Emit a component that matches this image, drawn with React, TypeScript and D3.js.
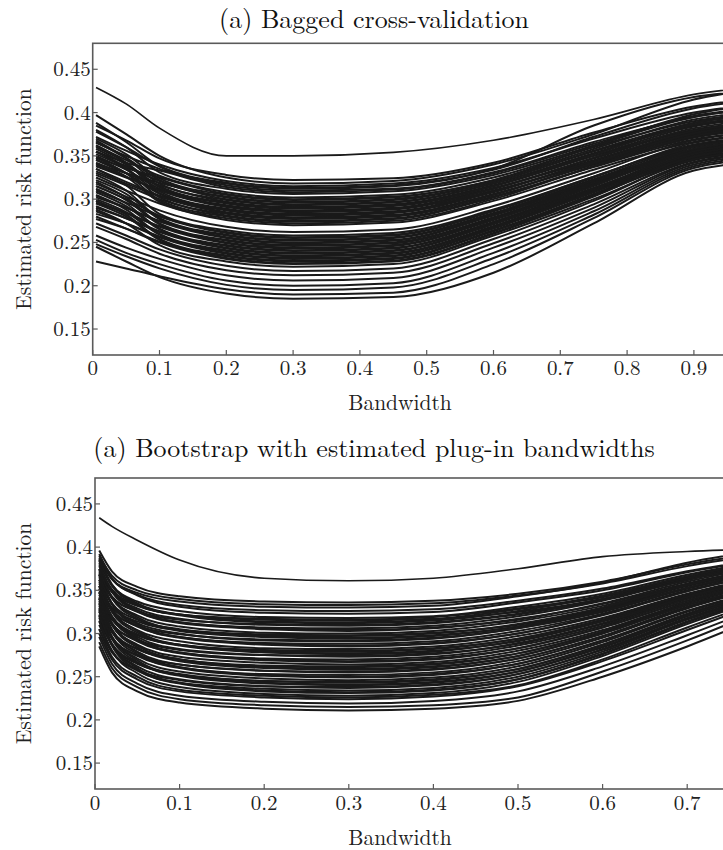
import React from 'react';
import * as d3 from 'd3';

const W = 723;
const H = 850;

// ---------- shared axis data ----------
const Y_TICKS = [0.15, 0.2, 0.25, 0.3, 0.35, 0.4, 0.45];
const Y_TICK_LABELS = ['0.15', '0.2', '0.25', '0.3', '0.35', '0.4', '0.45'];
const Y_DOMAIN = [0.12, 0.48];

// ---------- panel 1: bagged cross-validation ----------
const TITLE_CV = '(a) Bagged cross-validation';
const X_TICKS_CV = [0, 0.1, 0.2, 0.3, 0.4, 0.5, 0.6, 0.7, 0.8, 0.9];
const X_TICK_LABELS_CV = ['0', '0.1', '0.2', '0.3', '0.4', '0.5', '0.6', '0.7', '0.8', '0.9'];
const KNOTS_CV = [0.005, 0.05, 0.1, 0.2, 0.3, 0.45, 0.6, 0.75, 0.9, 1.0];
const CURVES_CV: number[][] = [
  [0.429, 0.410, 0.382, 0.350, 0.350, 0.354, 0.368, 0.392, 0.421, 0.430],
  [0.385, 0.368, 0.347, 0.328, 0.322, 0.324, 0.342, 0.377, 0.407, 0.417],
  [0.397, 0.375, 0.350, 0.325, 0.318, 0.321, 0.340, 0.375, 0.415, 0.428],
  [0.372, 0.356, 0.340, 0.321, 0.315, 0.318, 0.336, 0.370, 0.400, 0.410],
  [0.378, 0.360, 0.338, 0.319, 0.313, 0.316, 0.334, 0.372, 0.405, 0.415],
  [0.388, 0.366, 0.338, 0.318, 0.312, 0.315, 0.335, 0.385, 0.418, 0.425],
  [0.365, 0.350, 0.335, 0.316, 0.310, 0.312, 0.331, 0.366, 0.395, 0.405],
  [0.355, 0.342, 0.333, 0.314, 0.308, 0.311, 0.330, 0.364, 0.396, 0.406],
  [0.380, 0.360, 0.331, 0.312, 0.306, 0.309, 0.328, 0.362, 0.398, 0.410],
  [0.362, 0.345, 0.327, 0.308, 0.302, 0.305, 0.325, 0.360, 0.390, 0.400],
  [0.348, 0.336, 0.325, 0.306, 0.300, 0.303, 0.322, 0.361, 0.395, 0.405],
  [0.370, 0.352, 0.324, 0.305, 0.299, 0.302, 0.322, 0.358, 0.392, 0.402],
  [0.368, 0.348, 0.322, 0.303, 0.297, 0.300, 0.320, 0.356, 0.388, 0.398],
  [0.355, 0.338, 0.321, 0.302, 0.296, 0.299, 0.320, 0.355, 0.385, 0.395],
  [0.341, 0.330, 0.319, 0.300, 0.294, 0.297, 0.318, 0.353, 0.386, 0.396],
  [0.366, 0.347, 0.318, 0.299, 0.293, 0.296, 0.318, 0.352, 0.388, 0.398],
  [0.345, 0.330, 0.316, 0.297, 0.291, 0.294, 0.316, 0.350, 0.380, 0.390],
  [0.360, 0.342, 0.315, 0.296, 0.290, 0.293, 0.315, 0.350, 0.384, 0.394],
  [0.358, 0.340, 0.314, 0.295, 0.289, 0.292, 0.315, 0.352, 0.386, 0.396],
  [0.350, 0.334, 0.312, 0.293, 0.287, 0.290, 0.313, 0.345, 0.378, 0.388],
  [0.338, 0.325, 0.311, 0.292, 0.286, 0.289, 0.312, 0.347, 0.380, 0.390],
  [0.340, 0.326, 0.310, 0.291, 0.285, 0.288, 0.312, 0.348, 0.382, 0.392],
  [0.362, 0.342, 0.309, 0.289, 0.283, 0.286, 0.310, 0.342, 0.374, 0.384],
  [0.355, 0.336, 0.307, 0.288, 0.282, 0.285, 0.309, 0.344, 0.377, 0.387],
  [0.346, 0.330, 0.306, 0.287, 0.281, 0.284, 0.308, 0.344, 0.379, 0.389],
  [0.335, 0.320, 0.304, 0.285, 0.279, 0.282, 0.306, 0.340, 0.372, 0.382],
  [0.332, 0.318, 0.303, 0.284, 0.278, 0.281, 0.305, 0.341, 0.375, 0.385],
  [0.352, 0.335, 0.302, 0.283, 0.277, 0.280, 0.305, 0.342, 0.376, 0.386],
  [0.330, 0.316, 0.300, 0.281, 0.275, 0.278, 0.303, 0.337, 0.369, 0.379],
  [0.348, 0.330, 0.299, 0.280, 0.274, 0.277, 0.302, 0.338, 0.371, 0.381],
  [0.342, 0.326, 0.297, 0.278, 0.272, 0.275, 0.300, 0.338, 0.373, 0.383],
  [0.325, 0.310, 0.295, 0.276, 0.270, 0.273, 0.298, 0.334, 0.366, 0.376],
  [0.318, 0.303, 0.287, 0.268, 0.262, 0.265, 0.292, 0.330, 0.368, 0.378],
  [0.335, 0.316, 0.283, 0.264, 0.258, 0.261, 0.288, 0.326, 0.362, 0.372],
  [0.315, 0.300, 0.281, 0.262, 0.256, 0.259, 0.287, 0.326, 0.363, 0.373],
  [0.310, 0.296, 0.280, 0.261, 0.255, 0.258, 0.286, 0.325, 0.365, 0.375],
  [0.328, 0.310, 0.278, 0.259, 0.253, 0.256, 0.284, 0.323, 0.361, 0.371],
  [0.322, 0.306, 0.277, 0.258, 0.252, 0.255, 0.283, 0.322, 0.358, 0.368],
  [0.302, 0.290, 0.275, 0.256, 0.250, 0.253, 0.282, 0.321, 0.357, 0.367],
  [0.305, 0.290, 0.274, 0.255, 0.249, 0.252, 0.281, 0.320, 0.360, 0.370],
  [0.320, 0.302, 0.272, 0.253, 0.247, 0.250, 0.279, 0.319, 0.358, 0.368],
  [0.315, 0.299, 0.271, 0.252, 0.246, 0.249, 0.278, 0.318, 0.355, 0.365],
  [0.296, 0.284, 0.269, 0.250, 0.244, 0.247, 0.277, 0.317, 0.354, 0.364],
  [0.298, 0.284, 0.268, 0.249, 0.243, 0.246, 0.276, 0.316, 0.358, 0.368],
  [0.312, 0.295, 0.266, 0.247, 0.241, 0.244, 0.274, 0.315, 0.356, 0.366],
  [0.308, 0.292, 0.265, 0.246, 0.240, 0.243, 0.273, 0.313, 0.352, 0.362],
  [0.290, 0.278, 0.263, 0.244, 0.238, 0.241, 0.272, 0.313, 0.351, 0.361],
  [0.292, 0.278, 0.262, 0.243, 0.237, 0.240, 0.271, 0.312, 0.355, 0.365],
  [0.304, 0.288, 0.260, 0.241, 0.235, 0.238, 0.269, 0.311, 0.353, 0.363],
  [0.300, 0.285, 0.259, 0.240, 0.234, 0.237, 0.268, 0.310, 0.350, 0.360],
  [0.283, 0.272, 0.257, 0.238, 0.232, 0.235, 0.267, 0.309, 0.348, 0.358],
  [0.286, 0.272, 0.256, 0.237, 0.231, 0.234, 0.266, 0.308, 0.352, 0.362],
  [0.298, 0.282, 0.254, 0.235, 0.229, 0.232, 0.264, 0.306, 0.350, 0.360],
  [0.295, 0.280, 0.253, 0.234, 0.228, 0.231, 0.263, 0.305, 0.347, 0.357],
  [0.277, 0.266, 0.251, 0.232, 0.226, 0.229, 0.261, 0.304, 0.346, 0.356],
  [0.280, 0.266, 0.250, 0.231, 0.225, 0.228, 0.260, 0.303, 0.349, 0.359],
  [0.288, 0.272, 0.247, 0.228, 0.222, 0.225, 0.258, 0.300, 0.345, 0.355],
  [0.272, 0.258, 0.242, 0.223, 0.217, 0.220, 0.254, 0.298, 0.346, 0.356],
  [0.268, 0.254, 0.237, 0.218, 0.212, 0.215, 0.249, 0.294, 0.343, 0.353],
  [0.258, 0.244, 0.231, 0.212, 0.206, 0.209, 0.244, 0.290, 0.342, 0.352],
  [0.253, 0.238, 0.225, 0.206, 0.200, 0.203, 0.238, 0.286, 0.340, 0.350],
  [0.248, 0.234, 0.220, 0.201, 0.195, 0.198, 0.232, 0.282, 0.338, 0.348],
  [0.228, 0.220, 0.211, 0.196, 0.190, 0.192, 0.225, 0.278, 0.336, 0.346],
  [0.245, 0.228, 0.210, 0.191, 0.185, 0.187, 0.215, 0.272, 0.333, 0.343],
];

// ---------- panel 2: bootstrap with plug-in bandwidths ----------
const TITLE_BOOT = '(a) Bootstrap with estimated plug-in bandwidths';
const X_TICKS_BOOT = [0, 0.1, 0.2, 0.3, 0.4, 0.5, 0.6, 0.7];
const X_TICK_LABELS_BOOT = ['0', '0.1', '0.2', '0.3', '0.4', '0.5', '0.6', '0.7'];
const KNOTS_BOOT = [0.005, 0.02, 0.05, 0.1, 0.2, 0.3, 0.4, 0.5, 0.6, 0.7, 0.8];
const CURVES_BOOT: number[][] = [
  [0.434, 0.424, 0.408, 0.385, 0.364, 0.361, 0.364, 0.375, 0.389, 0.395, 0.398],
  [0.396, 0.372, 0.354, 0.343, 0.337, 0.336, 0.338, 0.346, 0.360, 0.380, 0.395],
  [0.390, 0.367, 0.350, 0.340, 0.334, 0.333, 0.335, 0.344, 0.358, 0.378, 0.393],
  [0.385, 0.363, 0.347, 0.337, 0.331, 0.330, 0.332, 0.343, 0.359, 0.382, 0.398],
  [0.388, 0.363, 0.345, 0.333, 0.327, 0.326, 0.328, 0.338, 0.352, 0.372, 0.388],
  [0.392, 0.364, 0.344, 0.331, 0.324, 0.323, 0.325, 0.336, 0.350, 0.371, 0.387],
  [0.382, 0.356, 0.337, 0.326, 0.319, 0.318, 0.320, 0.331, 0.346, 0.368, 0.386],
  [0.370, 0.348, 0.332, 0.322, 0.317, 0.316, 0.319, 0.329, 0.342, 0.365, 0.383],
  [0.375, 0.351, 0.333, 0.322, 0.316, 0.315, 0.317, 0.328, 0.344, 0.366, 0.384],
  [0.386, 0.357, 0.335, 0.322, 0.314, 0.313, 0.316, 0.325, 0.340, 0.363, 0.381],
  [0.384, 0.355, 0.334, 0.321, 0.313, 0.312, 0.315, 0.326, 0.343, 0.366, 0.385],
  [0.364, 0.342, 0.326, 0.316, 0.311, 0.310, 0.313, 0.323, 0.340, 0.364, 0.383],
  [0.375, 0.349, 0.329, 0.317, 0.310, 0.309, 0.312, 0.322, 0.339, 0.362, 0.381],
  [0.368, 0.343, 0.325, 0.313, 0.307, 0.306, 0.309, 0.320, 0.338, 0.362, 0.382],
  [0.380, 0.350, 0.327, 0.313, 0.306, 0.304, 0.307, 0.316, 0.335, 0.360, 0.380],
  [0.378, 0.348, 0.326, 0.312, 0.305, 0.303, 0.306, 0.317, 0.334, 0.358, 0.378],
  [0.369, 0.341, 0.321, 0.308, 0.301, 0.300, 0.303, 0.314, 0.332, 0.357, 0.378],
  [0.352, 0.330, 0.314, 0.304, 0.299, 0.298, 0.301, 0.310, 0.329, 0.355, 0.376],
  [0.360, 0.335, 0.316, 0.305, 0.298, 0.297, 0.300, 0.311, 0.330, 0.356, 0.377],
  [0.374, 0.342, 0.319, 0.304, 0.297, 0.295, 0.298, 0.308, 0.328, 0.353, 0.375],
  [0.372, 0.341, 0.317, 0.303, 0.296, 0.294, 0.297, 0.308, 0.327, 0.352, 0.374],
  [0.350, 0.327, 0.309, 0.299, 0.293, 0.292, 0.295, 0.306, 0.325, 0.352, 0.373],
  [0.362, 0.334, 0.312, 0.300, 0.292, 0.291, 0.294, 0.306, 0.326, 0.353, 0.375],
  [0.355, 0.328, 0.308, 0.296, 0.289, 0.288, 0.291, 0.303, 0.323, 0.350, 0.372],
  [0.368, 0.335, 0.311, 0.296, 0.288, 0.286, 0.289, 0.300, 0.322, 0.349, 0.371],
  [0.366, 0.334, 0.309, 0.295, 0.287, 0.285, 0.288, 0.300, 0.321, 0.349, 0.372],
  [0.355, 0.326, 0.304, 0.291, 0.283, 0.282, 0.285, 0.297, 0.318, 0.346, 0.369],
  [0.340, 0.316, 0.298, 0.287, 0.281, 0.280, 0.283, 0.294, 0.316, 0.344, 0.367],
  [0.347, 0.320, 0.299, 0.287, 0.280, 0.279, 0.282, 0.294, 0.316, 0.345, 0.368],
  [0.362, 0.328, 0.303, 0.287, 0.279, 0.277, 0.280, 0.291, 0.314, 0.343, 0.366],
  [0.358, 0.325, 0.301, 0.286, 0.278, 0.276, 0.279, 0.292, 0.314, 0.343, 0.367],
  [0.336, 0.311, 0.293, 0.281, 0.275, 0.274, 0.277, 0.288, 0.311, 0.341, 0.365],
  [0.348, 0.318, 0.296, 0.282, 0.275, 0.273, 0.276, 0.289, 0.312, 0.342, 0.366],
  [0.340, 0.312, 0.291, 0.278, 0.271, 0.270, 0.273, 0.286, 0.309, 0.340, 0.364],
  [0.355, 0.320, 0.294, 0.278, 0.270, 0.268, 0.271, 0.283, 0.307, 0.338, 0.363],
  [0.352, 0.318, 0.293, 0.277, 0.269, 0.267, 0.270, 0.283, 0.307, 0.338, 0.363],
  [0.341, 0.310, 0.287, 0.273, 0.266, 0.264, 0.267, 0.280, 0.304, 0.336, 0.361],
  [0.328, 0.302, 0.282, 0.270, 0.263, 0.262, 0.265, 0.277, 0.302, 0.335, 0.360],
  [0.332, 0.304, 0.282, 0.270, 0.262, 0.261, 0.264, 0.277, 0.302, 0.335, 0.361],
  [0.348, 0.312, 0.286, 0.270, 0.261, 0.259, 0.262, 0.274, 0.300, 0.333, 0.358],
  [0.345, 0.310, 0.284, 0.268, 0.260, 0.258, 0.261, 0.274, 0.300, 0.333, 0.358],
  [0.320, 0.294, 0.275, 0.264, 0.257, 0.256, 0.259, 0.271, 0.297, 0.331, 0.357],
  [0.334, 0.302, 0.279, 0.264, 0.257, 0.255, 0.258, 0.271, 0.297, 0.330, 0.356],
  [0.325, 0.296, 0.274, 0.261, 0.253, 0.252, 0.255, 0.268, 0.295, 0.329, 0.356],
  [0.342, 0.305, 0.278, 0.261, 0.252, 0.250, 0.253, 0.265, 0.292, 0.326, 0.354],
  [0.338, 0.302, 0.276, 0.260, 0.251, 0.249, 0.252, 0.265, 0.292, 0.326, 0.353],
  [0.328, 0.295, 0.271, 0.256, 0.248, 0.246, 0.249, 0.262, 0.290, 0.325, 0.352],
  [0.315, 0.287, 0.265, 0.253, 0.245, 0.244, 0.247, 0.259, 0.287, 0.322, 0.351],
  [0.318, 0.288, 0.266, 0.252, 0.245, 0.243, 0.246, 0.259, 0.287, 0.323, 0.351],
  [0.335, 0.297, 0.269, 0.252, 0.243, 0.241, 0.244, 0.256, 0.284, 0.320, 0.349],
  [0.330, 0.294, 0.267, 0.251, 0.242, 0.240, 0.243, 0.256, 0.285, 0.321, 0.350],
  [0.305, 0.278, 0.258, 0.246, 0.239, 0.238, 0.241, 0.253, 0.281, 0.317, 0.348],
  [0.321, 0.287, 0.262, 0.247, 0.239, 0.237, 0.240, 0.253, 0.282, 0.318, 0.348],
  [0.310, 0.280, 0.257, 0.243, 0.236, 0.234, 0.237, 0.250, 0.279, 0.316, 0.347],
  [0.326, 0.288, 0.260, 0.243, 0.234, 0.232, 0.235, 0.247, 0.276, 0.313, 0.345],
  [0.322, 0.286, 0.258, 0.242, 0.233, 0.231, 0.234, 0.247, 0.277, 0.314, 0.346],
  [0.314, 0.280, 0.254, 0.238, 0.230, 0.228, 0.231, 0.244, 0.274, 0.311, 0.344],
  [0.305, 0.273, 0.250, 0.235, 0.228, 0.226, 0.229, 0.240, 0.270, 0.307, 0.342],
  [0.300, 0.270, 0.247, 0.233, 0.226, 0.224, 0.227, 0.239, 0.268, 0.304, 0.340],
  [0.296, 0.265, 0.242, 0.228, 0.221, 0.219, 0.222, 0.233, 0.262, 0.298, 0.336],
  [0.290, 0.260, 0.238, 0.224, 0.217, 0.215, 0.217, 0.226, 0.256, 0.292, 0.332],
  [0.285, 0.255, 0.233, 0.220, 0.213, 0.211, 0.213, 0.222, 0.250, 0.285, 0.325],
];

// ---------- styling ----------
const FONT = 'Latin Modern Roman, Liberation Serif, serif';
const FRAME = '#5a5a5a';
const CURVE = '#1a1a1a';

type PanelProps = {
  id: string;
  title: string;
  left: number;
  right: number;
  top: number;
  bottom: number;
  xMax: number;
  xTicks: number[];
  xTickLabels: string[];
  knots: number[];
  curves: number[][];
  titleY: number;
  tickLabelY: number;
  xLabelY: number;
};

function Panel(p: PanelProps) {
  const x = d3.scaleLinear().domain([0, p.xMax]).range([p.left, p.right]);
  const y = d3.scaleLinear().domain(Y_DOMAIN).range([p.bottom, p.top]);
  const line = d3
    .line<number>()
    .x((_, i) => x(p.knots[i]))
    .y((d) => y(d))
    .curve(d3.curveMonotoneX);
  const clip = `clip-${p.id}`;
  const tickLen = 5;
  return (
    <g>
      <defs>
        <clipPath id={clip}>
          <rect x={p.left} y={p.top} width={p.right - p.left} height={p.bottom - p.top} />
        </clipPath>
      </defs>
      <text x={374} y={p.titleY} textAnchor="middle" style={{ fontFamily: FONT }} fontSize={26} fill="#111">
        {p.title}
      </text>
      <g clipPath={`url(#${clip})`}>
        {p.curves.map((c, i) => (
          <path
            key={i}
            d={line(c) || ''}
            fill="none"
            stroke={CURVE}
            strokeWidth={i === 0 ? 1.6 : 2.0}
            strokeLinejoin="round"
          />
        ))}
      </g>
      <rect
        x={p.left}
        y={p.top}
        width={p.right - p.left}
        height={p.bottom - p.top}
        fill="none"
        stroke={FRAME}
        strokeWidth={1.6}
      />
      {Y_TICKS.map((t, i) => (
        <g key={'y' + i}>
          <line x1={p.left} x2={p.left + tickLen} y1={y(t)} y2={y(t)} stroke={FRAME} strokeWidth={1.2} />
          <text
            x={p.left - 2}
            y={y(t) + 7}
            textAnchor="end"
            style={{ fontFamily: FONT }}
            fontSize={21}
            fill="#222"
          >
            {Y_TICK_LABELS[i]}
          </text>
        </g>
      ))}
      {p.xTicks.map((t, i) => (
        <g key={'x' + i}>
          <line x1={x(t)} x2={x(t)} y1={p.bottom} y2={p.bottom - tickLen} stroke={FRAME} strokeWidth={1.2} />
          <text x={x(t)} y={p.tickLabelY} textAnchor="middle" style={{ fontFamily: FONT }} fontSize={21} fill="#222">
            {p.xTickLabels[i]}
          </text>
        </g>
      ))}
      <text x={400} y={p.xLabelY} textAnchor="middle" style={{ fontFamily: FONT }} fontSize={21.5} fill="#222">
        Bandwidth
      </text>
      <text
        transform={`translate(31, ${(p.top + p.bottom) / 2}) rotate(-90)`}
        textAnchor="middle"
        style={{ fontFamily: FONT }}
        fontSize={21.5}
        fill="#222"
      >
        Estimated risk function
      </text>
    </g>
  );
}

export default function App() {
  return (
    <svg
      width={W}
      height={H}
      viewBox={`0 0 ${W} ${H}`}
      style={{ position: 'absolute', left: 0, top: 0, background: '#fff', overflow: 'hidden' }}
    >
      <rect x={0} y={0} width={W} height={H} fill="#fff" />
      <Panel
        id="cv"
        title={TITLE_CV}
        left={92.7}
        right={760.7}
        top={43.3}
        bottom={355}
        xMax={1.0}
        xTicks={X_TICKS_CV}
        xTickLabels={X_TICK_LABELS_CV}
        knots={KNOTS_CV}
        curves={CURVES_CV}
        titleY={28}
        tickLabelY={375}
        xLabelY={410}
      />
      <Panel
        id="boot"
        title={TITLE_BOOT}
        left={95}
        right={771.8}
        top={478}
        bottom={789}
        xMax={0.8}
        xTicks={X_TICKS_BOOT}
        xTickLabels={X_TICK_LABELS_BOOT}
        knots={KNOTS_BOOT}
        curves={CURVES_BOOT}
        titleY={457}
        tickLabelY={810}
        xLabelY={845}
      />
    </svg>
  );
}
